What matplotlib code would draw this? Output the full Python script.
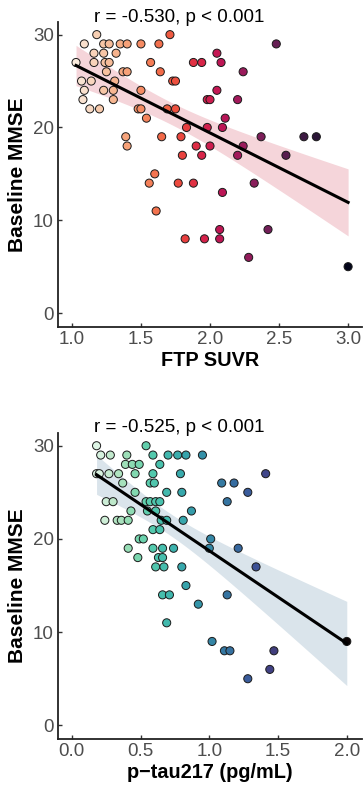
import numpy as np
import matplotlib
matplotlib.use("Agg")
import matplotlib.pyplot as plt
import seaborn as sns

plt.rcParams['font.family'] = ['Liberation Sans', 'DejaVu Sans']

# FTP SUVR vs baseline MMSE
ftp = [1.03, 1.09, 1.18, 1.07, 1.09, 1.08, 1.14, 1.13, 1.16, 1.16, 1.20, 1.23, 1.27, 1.23,
       1.24, 1.27, 1.25, 1.23, 1.31, 1.30, 1.30, 1.32, 1.35, 1.40, 1.37, 1.40, 1.39, 1.40,
       1.50, 1.50, 1.48, 1.50, 1.54, 1.57, 1.63, 1.64, 1.71, 1.73, 1.75, 1.69, 1.75, 1.65,
       1.79, 1.83, 1.80, 1.90, 1.94, 1.88, 1.94, 1.98, 2.00, 1.98, 2.00, 2.05, 2.08, 2.05,
       2.11, 2.09, 2.24, 2.20, 2.24, 2.20, 2.37, 2.48, 2.55, 2.68, 2.77, 1.56, 1.60, 1.77,
       1.88, 2.32, 2.09, 1.61, 1.82, 1.96, 2.07, 2.07, 2.28, 2.42, 3.00]
mmse_ftp = [27, 29, 30, 25, 24, 23, 25, 22, 28, 27, 22, 29, 29, 28,
            27, 27, 26, 24, 25, 24, 23, 28, 29, 29, 26, 26, 19, 18,
            29, 24, 22, 22, 21, 27, 29, 26, 30, 25, 25, 22, 22, 19,
            19, 20, 17, 18, 17, 27, 27, 20, 18, 23, 23, 28, 27, 24,
            21, 20, 26, 23, 18, 17, 19, 29, 17, 19, 19, 14, 15, 14,
            14, 14, 13, 11, 8, 8, 9, 8, 6, 9, 5]

# p-tau217 vs baseline MMSE
ptau = [0.18, 0.21, 0.28, 0.18, 0.20, 0.27, 0.34, 0.37, 0.25, 0.30, 0.24, 0.33, 0.36, 0.41,
        0.43, 0.46, 0.40, 0.39, 0.44, 0.49, 0.46, 0.54, 0.59, 0.70, 0.77, 0.83, 0.95, 0.64,
        0.59, 0.79, 0.57, 0.60, 0.69, 0.80, 0.54, 0.57, 0.61, 0.64, 0.55, 0.61, 0.87, 0.65,
        0.69, 0.81, 0.59, 0.64, 0.49, 0.52, 0.41, 0.48, 0.59, 0.66, 0.74, 0.63, 0.66, 0.61,
        0.67, 0.80, 0.83, 0.66, 0.71, 1.01, 1.00, 1.21, 1.34, 1.09, 1.18, 1.28, 1.13, 1.41,
        1.13, 0.92, 0.69, 1.02, 1.11, 1.15, 1.47, 1.44, 1.28, 2.00]
mmse_ptau = [30, 29, 29, 27, 27, 27, 27, 26, 24, 24, 22, 22, 22, 22,
             23, 25, 29, 28, 28, 28, 27, 30, 29, 29, 29, 29, 29, 28,
             27, 27, 26, 26, 25, 25, 24, 24, 24, 24, 23, 23, 23, 22,
             22, 22, 21, 21, 20, 20, 19, 18, 19, 19, 19, 18, 18, 17,
             17, 17, 15, 14, 14, 20, 19, 19, 17, 26, 26, 25, 24, 27,
             14, 13, 11, 9, 8, 8, 8, 6, 5, 9]


def panel(ax, x, y, cmap, band, xlim, xticks, xlabel, title, title_y):
    x = np.asarray(x, float)
    y = np.asarray(y, float)
    order = np.argsort(x)
    x, y = x[order], y[order]
    n = len(x)
    b, a = np.polyfit(x, y, 1)
    xs = np.linspace(x.min(), x.max(), 100)
    fit = a + b * xs
    resid = y - (a + b * x)
    s = np.sqrt(np.sum(resid ** 2) / (n - 2))
    se = s * np.sqrt(1 / n + (xs - x.mean()) ** 2 / np.sum((x - x.mean()) ** 2))
    ax.fill_between(xs, fit - 1.99 * se, fit + 1.99 * se, color=band, lw=0, zorder=1)
    ax.scatter(x, y, c=x, cmap=cmap, vmin=x.min(), vmax=x.max(), s=34,
               edgecolors='#1a1a1a', linewidths=0.7, zorder=2)
    ax.plot(xs, fit, color='black', lw=2.2, zorder=3)
    ax.set_xlim(*xlim)
    ax.set_ylim(-1.5, 31.4)
    ax.set_xticks(xticks)
    ax.set_xticklabels([f"{t:.1f}" for t in xticks])
    ax.set_yticks([0, 10, 20, 30])
    for side in ['top', 'right']:
        ax.spines[side].set_visible(False)
    for side in ['left', 'bottom']:
        ax.spines[side].set_linewidth(1.3)
        ax.spines[side].set_color('#222222')
    ax.tick_params(direction='in', length=3, width=1, color='#333333',
                   labelsize=13.5, labelcolor='#4d4d4d', pad=3)
    ax.set_xlabel(xlabel, fontsize=14.3, fontweight='bold', labelpad=2)
    ax.set_ylabel('Baseline MMSE', fontsize=15, fontweight='bold', labelpad=4)
    # correlation annotation sits just above the panel, left of centre
    ax.text(0.398, title_y, title, transform=ax.transAxes, ha='center', va='center',
            fontsize=13.5, clip_on=False)


fig = plt.figure(figsize=(3.63, 7.87), dpi=100)
ax1 = fig.add_axes([0.16, 0.5845, 0.837, 0.388])
ax2 = fig.add_axes([0.16, 0.0606, 0.837, 0.3896])

panel(ax1, ftp, mmse_ftp, sns.color_palette('rocket_r', as_cmap=True), '#f5d5da',
      (0.9, 3.1), [1.0, 1.5, 2.0, 2.5, 3.0], 'FTP SUVR', 'r = -0.530, p < 0.001', 1.012)
panel(ax2, ptau, mmse_ptau, sns.color_palette('mako_r', as_cmap=True), '#dae4eb',
      (-0.1, 2.11), [0.0, 0.5, 1.0, 1.5, 2.0], 'p\u2212tau217 (pg/mL)', 'r = -0.525, p < 0.001', 1.016)

fig.savefig('out.png', dpi=100)
